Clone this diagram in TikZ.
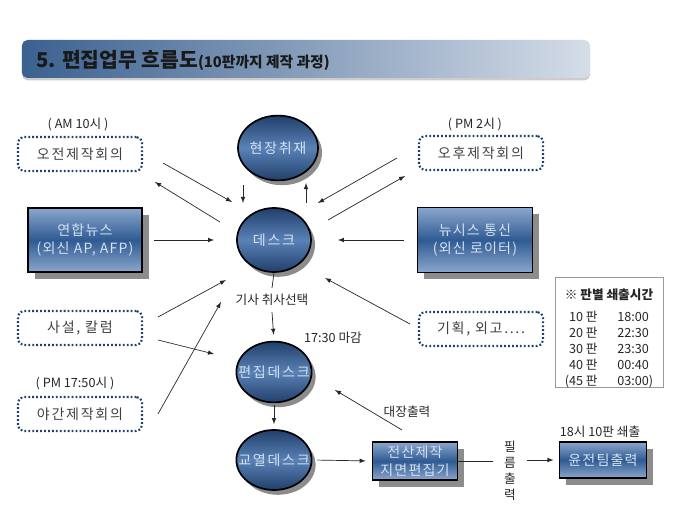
\documentclass[tikz,border=0pt]{standalone}
\usepackage{fontspec}
\setmainfont{Noto Sans CJK KR}
\usepackage{tikz}
\usetikzlibrary{shapes.geometric}
\usetikzlibrary{shadows}
\definecolor{navyline}{HTML}{1F3F6E}
\definecolor{boxlight}{HTML}{8AA6CC}
\definecolor{boxdark}{HTML}{2F5B93}
\definecolor{elldark}{HTML}{213F6B}
\definecolor{elllight}{HTML}{5A82B6}
\definecolor{paletext}{HTML}{D5E1F1}
\definecolor{titleleft}{HTML}{3B6190}
\definecolor{titleright}{HTML}{D5DDE8}
\tikzset{
  meetbox/.style={draw=navyline, line width=1.5pt, dash pattern=on 1.3pt off 1.5pt, rounded corners=4pt, minimum width=3.1cm, minimum height=0.85cm, font=\fontsize{10}{12}\selectfont\addfontfeature{LetterSpace=12}, text=black!75},
  newsbox/.style={draw=black, line width=1.2pt, top color=boxlight, bottom color=boxlight, middle color=boxdark, text=paletext, align=center, inner sep=1pt, font=\fontsize{10}{13}\selectfont\addfontfeature{LetterSpace=8}, drop shadow={shadow xshift=1.7mm, shadow yshift=-1.7mm, fill=black, opacity=0.45}},
  deskell/.style={ellipse, draw=black, line width=1.2pt, top color=elldark, bottom color=elldark, middle color=elllight, inner sep=0pt, drop shadow={shadow xshift=1mm, shadow yshift=-1.2mm, fill=black, opacity=0.45}},
  elltext/.style={text=paletext, font=\fontsize{10}{12}\selectfont\addfontfeature{LetterSpace=12}},
  note/.style={font=\fontsize{9}{11.3}\selectfont, text=black!85},
  arr/.style={-latex, line width=0.5pt, black!85},
  plainline/.style={line width=0.5pt, black!85}
}

\begin{document}
\begin{tikzpicture}[x=0.025cm, y=-0.025cm]
        \useasboundingbox (0,0) rectangle (680,510);

        % title
        \node[rounded corners=4pt, left color=titleleft, right color=titleright, minimum width=14.2cm, minimum height=0.95cm, inner sep=0pt, drop shadow={shadow xshift=0pt, shadow yshift=-0.6mm, fill=black, opacity=0.2}] (titlebar) at (306,59) {};
        \node[anchor=west, text=black!90, inner sep=0pt] (title) at (36,60) {\bfseries\fontsize{14.5}{16}\selectfont 5. 편집업무 흐름도\fontsize{10.5}{12}\selectfont(10판까지 제작 과정)};

        % left column
        \node[note] (amtime) at (78,125) {( AM 10시 )};
        \node[meetbox] (am) at (80,154) {오전제작회의};
        \node[newsbox, minimum width=2.85cm, minimum height=1.6cm] (yonhap) at (85,240) {연합뉴스\\(외신 AP, AFP)};
        \node[meetbox] (saseol) at (80,328) {사설, 칼럼};
        \node[note] (nighttime) at (75,384) {( PM 17:50시 )};
        \node[meetbox] (night) at (80,414) {야간제작회의};

        % center column
        \node[deskell, minimum width=2cm, minimum height=1.62cm, label={[elltext]center:현장취재}] (field) at (278,148) {};
        \node[deskell, minimum width=1.85cm, minimum height=1.6cm, label={[elltext]center:데스크}] (desk) at (274,240) {};
        \node[note, inner ysep=1.5mm] (select) at (272,300) {기사 취사선택};
        \node[note] (deadline) at (333,338) {17:30 마감};
        \node[deskell, minimum width=1.88cm, minimum height=1.52cm, label={[elltext]center:편집데스크}] (edit) at (274,372) {};
        \node[deskell, minimum width=1.88cm, minimum height=1.5cm, label={[elltext]center:교열데스크}] (proof) at (274,460) {};

        % right column
        \node[note] (pmtime) at (475,125) {( PM 2시 )};
        \node[meetbox] (pm) at (481,153) {오후제작회의};
        \node[newsbox, minimum width=2.88cm, minimum height=1.62cm] (newsis) at (475,240) {뉴시스 통신\\(외신 로이터)};
        \node[meetbox] (plan) at (481,329) {기획, 외고....};

        % bottom row
        \node[newsbox, minimum width=2.12cm, minimum height=0.95cm, inner sep=0.5pt] (jeonsan) at (415,461) {전산제작\\지면편집기};
        \node[note] (ledger) at (407,412) {대장출력};
        \node[note, align=center, inner xsep=2.6mm, inner ysep=0pt] (film) at (510,471) {필\\름\\출\\력};
        \node[note] (presstime) at (600,432) {18시 10판 쇄출};
        \node[newsbox, minimum width=2.18cm, minimum height=0.9cm] (press) at (603,460) {윤전팀출력};

        % table
        \node[draw=black!40, line width=0.5pt, minimum width=2.7cm, minimum height=2.75cm] (table) at (609,332) {};
        \node[note, anchor=north, inner sep=0pt] (tabletext) at (609,288) {\renewcommand{\arraystretch}{1}%
          \begin{tabular}{@{}r@{\hspace{14pt}}l@{}}
            \multicolumn{2}{@{}c@{}}{\bfseries ※ 판별 쇄출시간}\\[4.5pt]
            10 판 & 18:00\\
            20 판 & 22:30\\
            30 판 & 23:30\\
            40 판 & 00:40\\
            (45 판 & 03:00)
          \end{tabular}};

        % arrow ends
        \coordinate (amOut) at (163,163);
        \coordinate (deskFromAm) at (232,202);
        \coordinate (deskToAm) at (220,222);
        \coordinate (amIn) at (155,182);
        \coordinate (saseolUp) at (158,317);
        \coordinate (deskFromSaseol) at (226,280);
        \coordinate (saseolDown) at (158,340);
        \coordinate (editFromSaseol) at (214,354);
        \coordinate (nightOut) at (158,414);
        \coordinate (selectFromNight) at (221,302);
        \coordinate (fieldOutTop) at (243,185);
        \coordinate (deskFromField) at (243,203);
        \coordinate (deskToField) at (306,203);
        \coordinate (fieldIn) at (306,183);
        \coordinate (pmOut) at (397,158);
        \coordinate (deskFromPm) at (318,203);
        \coordinate (deskToPm) at (328,220);
        \coordinate (pmIn) at (405,176);
        \coordinate (planOut) at (410,324);
        \coordinate (deskFromPlan) at (325,278);
        \coordinate (jeonsanOut) at (402,430);
        \coordinate (editFromJeonsan) at (335,390);

        % arrows to the desk
        \draw[arr] (amOut) -- (deskFromAm);
        \draw[arr] (deskToAm) -- (amIn);
        \draw[arr, shorten <=2.75mm, shorten >=5.5mm] (yonhap.east) -- (desk.west);
        \draw[arr] (saseolUp) -- (deskFromSaseol);
        \draw[arr] (saseolDown) -- (editFromSaseol);
        \draw[arr] (nightOut) -- (selectFromNight);
        \draw[arr] (fieldOutTop) -- (deskFromField);
        \draw[arr] (deskToField) -- (fieldIn);
        \draw[arr] (pmOut) -- (deskFromPm);
        \draw[arr] (deskToPm) -- (pmIn);
        \draw[arr, shorten <=3.25mm, shorten >=6.5mm] (newsis.west) -- (desk.east);
        \draw[arr] (planOut) -- (deskFromPlan);

        % flow down
        \draw[plainline] (desk.south) -- (select.north);
        \draw[arr, shorten >=1.5mm] (select.south) -- (edit.north);
        \draw[arr, shorten <=0.5mm, shorten >=1.25mm] (edit.south) -- (proof.north);
        \draw[arr, shorten <=1.25mm, shorten >=1.5mm] (proof.east) -- (jeonsan.west);
        \draw[arr] (jeonsanOut) -- (editFromJeonsan);
        \draw[plainline] (jeonsan.east) -- (jeonsan.east -| film.west);
        \draw[arr, shorten >=1.25mm] (press.west -| film.east) -- (press.west);
\end{tikzpicture}
\end{document}
